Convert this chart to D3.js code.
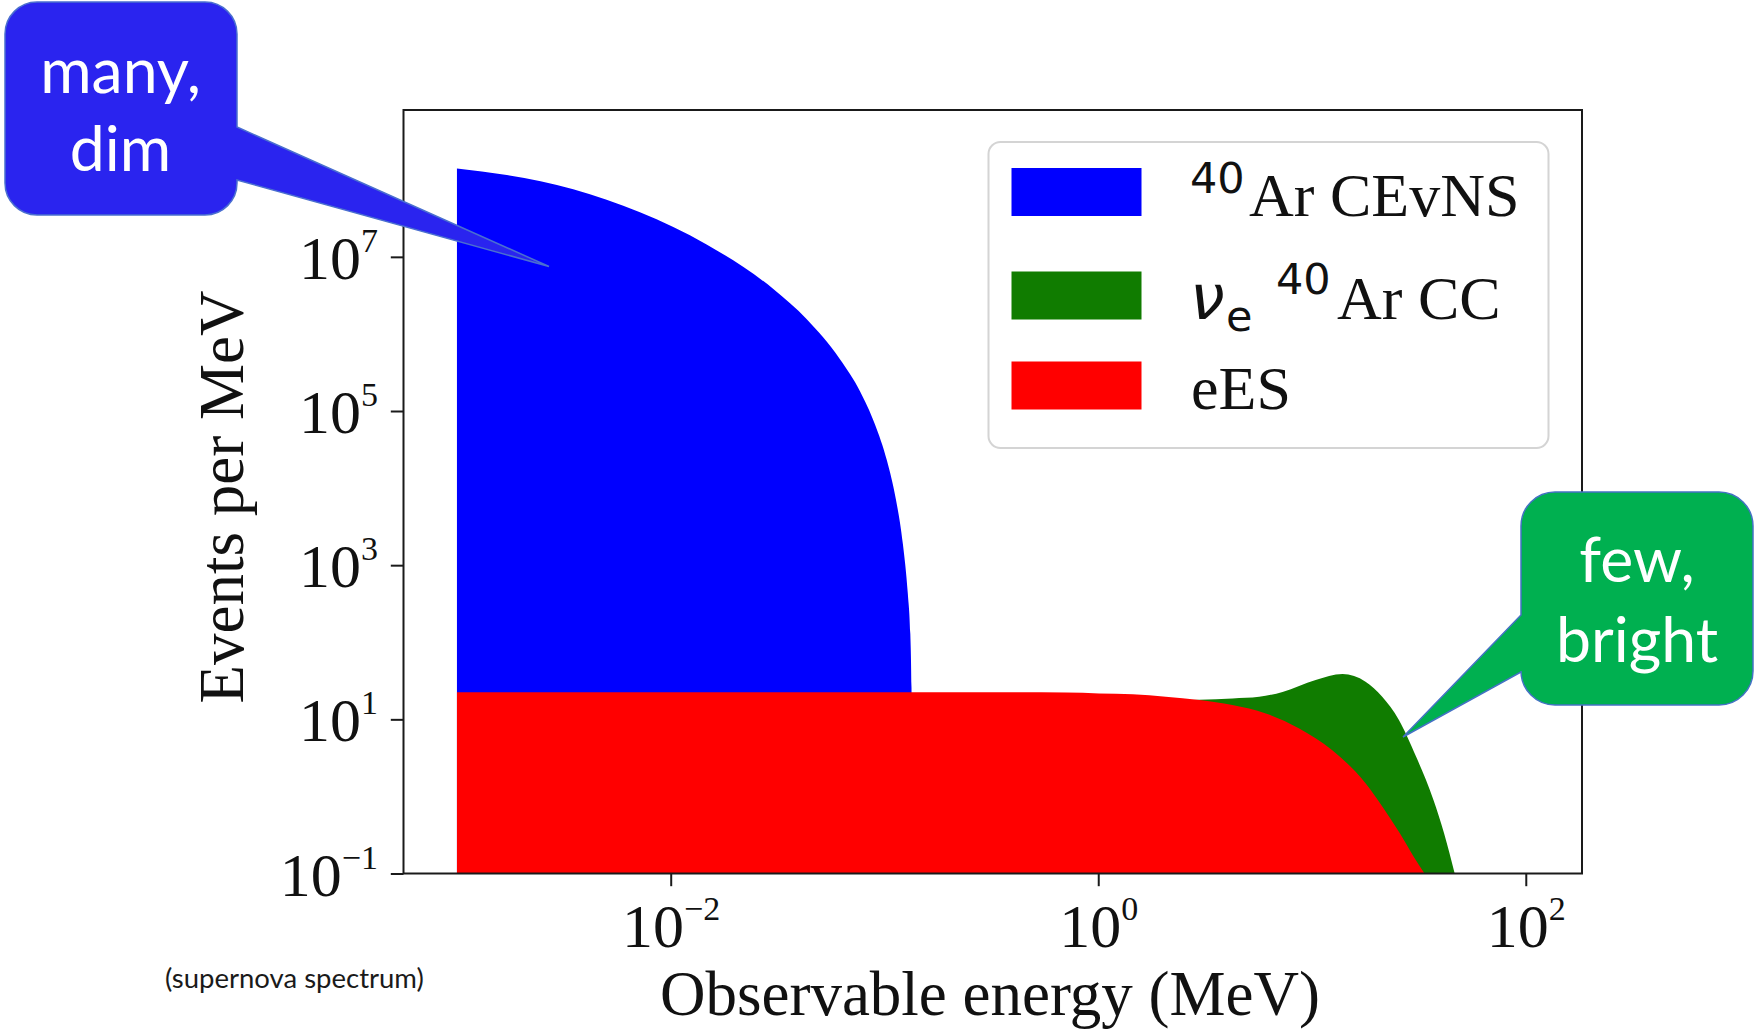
<!DOCTYPE html>
<html>
<head>
<meta charset="utf-8">
<script src="https://cdn.jsdelivr.net/npm/d3@7"></script>
<style>
  html, body { margin: 0; padding: 0; background: #ffffff; }
  svg { display: block; }
</style>
</head>
<body>
<svg id="chart" width="1758" height="1032"></svg>
<script>
// Supernova neutrino event spectra in liquid argon (events per MeV vs observable energy)

// Coherent elastic neutrino-nucleus scattering on 40Ar
const energyCEvNS = [0.001, 0.00171, 0.0035, 0.00718, 0.01472, 0.0302, 0.0433, 0.0619, 0.0768, 0.0902, 0.1026, 0.1130, 0.1219, 0.1286, 0.1321, 0.1338, 0.1349];
const eventsCEvNS = [1.40e8, 1.15e8, 7.55e7, 3.78e7, 1.45e7, 3.82e6, 1.55e6, 4.70e5, 1.81e5, 6.75e4, 2.30e4, 7.24e3, 1.90e3, 427, 129, 25.7, 0.1];

// Charged-current nu_e absorption on 40Ar
const energyCC = [1.0, 2.07, 2.97, 4.25, 5.66, 7.28, 10.4, 13.9, 17.8, 21.3, 25.5, 30.7, 37.0, 41.5, 46.5];
const eventsCC = [7.9, 17.4, 18.0, 18.7, 19.6, 22.7, 32.3, 38.6, 30.7, 19.6, 9.8, 3.27, 0.90, 0.33, 0.1];

// Elastic scattering on electrons
const energyEES = [0.001, 0.01, 0.1, 0.316, 0.708, 1.01, 1.45, 2.07, 2.97, 4.24, 6.08, 8.71, 12.4, 17.8, 21.4, 25.8, 29.9, 33.6];
const eventsEES = [22.5, 22.5, 22.4, 22.4, 22.3, 21.7, 21.1, 19.6, 17.8, 15.3, 11.9, 7.6, 4.0, 1.48, 0.73, 0.33, 0.165, 0.1];

const xTickValues = [1e-2, 1e0, 1e2];
const yTickValues = [1e-1, 1e1, 1e3, 1e5, 1e7];

const seriesColors = ["#0000ff", "#107c00", "#ff0000"];

const svg = d3.select("#chart");

const plot = { left: 403.5, right: 1582, top: 110, bottom: 873.5 };

const x = d3.scaleLog().domain([Math.pow(10, -3.25), Math.pow(10, 2.263)]).range([plot.left, plot.right]);
const y = d3.scaleLog().domain([0.1, Math.pow(10, 8.905)]).range([plot.bottom, plot.top]);

svg.append("defs").append("clipPath").attr("id", "plot-clip")
  .append("rect")
  .attr("x", plot.left).attr("y", plot.top)
  .attr("width", plot.right - plot.left).attr("height", plot.bottom - plot.top);

const area = d3.area()
  .x(d => x(d[0]))
  .y0(y(0.1))
  .y1(d => y(d[1]))
  .curve(d3.curveMonotoneX);

const series = [
  d3.zip(energyCEvNS, eventsCEvNS),
  d3.zip(energyCC, eventsCC),
  d3.zip(energyEES, eventsEES)
];

const fills = svg.append("g").attr("clip-path", "url(#plot-clip)");
series.forEach((pts, i) => {
  fills.append("path").attr("d", area(pts)).attr("fill", seriesColors[i]);
});

// Frame
svg.append("rect")
  .attr("x", plot.left).attr("y", plot.top)
  .attr("width", plot.right - plot.left).attr("height", plot.bottom - plot.top)
  .attr("fill", "none").attr("stroke", "#1a1a1a").attr("stroke-width", 2);

const expLabel = v => {
  const e = Math.round(Math.log10(v));
  return (e < 0 ? "\u2212" : "") + Math.abs(e);
};

// x axis
const xAxis = svg.append("g")
  .attr("transform", `translate(0,${plot.bottom})`)
  .call(d3.axisBottom(x).tickValues(xTickValues).tickSize(12.7).tickFormat(""));
xAxis.select(".domain").remove();
xAxis.selectAll(".tick line").attr("stroke", "#1a1a1a").attr("stroke-width", 2);
xAxis.selectAll(".tick").each(function(d) {
  const t = d3.select(this).append("text")
    .attr("x", 0).attr("y", 947 - plot.bottom)
    .attr("text-anchor", "middle")
    .attr("fill", "#111")
    .style("font-family", "'Liberation Serif', 'Times New Roman', serif")
    .style("font-size", "62px");
  t.append("tspan").text("10");
  t.append("tspan").attr("dy", -27).style("font-size", "34px").text(expLabel(d));
});

// y axis
const yAxis = svg.append("g")
  .attr("transform", `translate(${plot.left},0)`)
  .call(d3.axisLeft(y).tickValues(yTickValues).tickSize(12.7).tickFormat(""));
yAxis.select(".domain").remove();
yAxis.selectAll(".tick line").attr("stroke", "#1a1a1a").attr("stroke-width", 2);
yAxis.selectAll(".tick").each(function(d) {
  const t = d3.select(this).append("text")
    .attr("x", -25.5).attr("y", 21.5)
    .attr("text-anchor", "end")
    .attr("fill", "#111")
    .style("font-family", "'Liberation Serif', 'Times New Roman', serif")
    .style("font-size", "62px");
  t.append("tspan").text("10");
  t.append("tspan").attr("dy", -27).style("font-size", "34px").text(expLabel(d));
});

// Axis titles
svg.append("text")
  .attr("x", 990).attr("y", 1015)
  .attr("text-anchor", "middle").attr("fill", "#111")
  .style("font-family", "'Liberation Serif', 'Times New Roman', serif")
  .style("font-size", "63px")
  .text("Observable energy (MeV)");

svg.append("text")
  .attr("transform", "translate(243,497) rotate(-90)")
  .attr("text-anchor", "middle").attr("fill", "#111")
  .style("font-family", "'Liberation Serif', 'Times New Roman', serif")
  .style("font-size", "63px")
  .text("Events per MeV");

// Legend
const legend = svg.append("g");
legend.append("rect")
  .attr("x", 988.5).attr("y", 142).attr("width", 560).attr("height", 306)
  .attr("rx", 12).attr("ry", 12)
  .attr("fill", "#ffffff").attr("stroke", "#d4d4d4").attr("stroke-width", 2);

const legendRowBaselines = [215.5, 319, 409];
const serif = "'Liberation Serif', 'Times New Roman', serif";
const sans = "'DejaVu Sans', sans-serif";

legendRowBaselines.forEach((b, i) => {
  legend.append("rect")
    .attr("x", 1011.5).attr("y", b - 47.5).attr("width", 130).attr("height", 48)
    .attr("fill", seriesColors[i]);
});

// row 1: 40Ar CEvNS
legend.append("text").attr("x", 1190).attr("y", legendRowBaselines[0] - 23)
  .style("font-family", sans).style("font-size", "43px").attr("fill", "#111").text("40");
legend.append("text").attr("x", 1249).attr("y", legendRowBaselines[0])
  .style("font-family", serif).style("font-size", "62px").attr("fill", "#111").text("Ar CEvNS");

// row 2: nu_e 40Ar CC
legend.append("text").attr("x", 1190).attr("y", legendRowBaselines[1])
  .style("font-family", sans).style("font-style", "italic").style("font-size", "62px").attr("fill", "#111").text("\u03bd");
legend.append("text").attr("x", 1226).attr("y", legendRowBaselines[1] + 12)
  .style("font-family", sans).style("font-size", "43px").attr("fill", "#111").text("e");
legend.append("text").attr("x", 1276).attr("y", legendRowBaselines[1] - 25)
  .style("font-family", sans).style("font-size", "43px").attr("fill", "#111").text("40");
legend.append("text").attr("x", 1337).attr("y", legendRowBaselines[1])
  .style("font-family", serif).style("font-size", "62px").attr("fill", "#111").text("Ar CC");

// row 3: eES
legend.append("text").attr("x", 1191).attr("y", legendRowBaselines[2])
  .style("font-family", serif).style("font-size", "62px").attr("fill", "#111").text("eES");

// Caption
svg.append("text")
  .attr("x", 165).attr("y", 988)
  .style("font-family", "Lato, 'Open Sans', sans-serif").style("font-size", "27.5px")
  .attr("fill", "#1a1a1a")
  .text("(supernova spectrum)");

// Speech-bubble callouts
function bubbleRightTail(x0, y0, x1, y1, r, ya, yb, tx, ty) {
  return `M${x0 + r},${y0} H${x1 - r} A${r},${r} 0 0 1 ${x1},${y0 + r} V${ya} L${tx},${ty} L${x1},${yb} ` +
         `V${y1 - r} A${r},${r} 0 0 1 ${x1 - r},${y1} H${x0 + r} A${r},${r} 0 0 1 ${x0},${y1 - r} ` +
         `V${y0 + r} A${r},${r} 0 0 1 ${x0 + r},${y0} Z`;
}
function bubbleLeftTail(x0, y0, x1, y1, r, ya, yb, tx, ty) {
  return `M${x0 + r},${y0} H${x1 - r} A${r},${r} 0 0 1 ${x1},${y0 + r} V${y1 - r} ` +
         `A${r},${r} 0 0 1 ${x1 - r},${y1} H${x0 + r} A${r},${r} 0 0 1 ${x0},${y1 - r} ` +
         `V${yb} L${tx},${ty} L${x0},${ya} V${y0 + r} A${r},${r} 0 0 1 ${x0 + r},${y0} Z`;
}

const callouts = svg.append("g");
callouts.append("path")
  .attr("d", bubbleRightTail(5, 2, 237, 215, 32, 127, 180, 549, 266.5))
  .attr("fill", "#2a24ef").attr("stroke", "#4a6fd0").attr("stroke-width", 1.5);
callouts.append("path")
  .attr("d", bubbleLeftTail(1521, 492, 1753, 705, 34, 615, 672, 1403, 737))
  .attr("fill", "#00b050").attr("stroke", "#4472c4").attr("stroke-width", 1.5);

const calloutFont = "Lato, 'Open Sans', sans-serif";
[["many,", 120.5, 93], ["dim", 120.5, 171], ["few,", 1637, 582], ["bright", 1637, 662]].forEach(([s, cx, by]) => {
  callouts.append("text")
    .attr("x", cx).attr("y", by)
    .attr("text-anchor", "middle")
    .attr("fill", "#ffffff")
    .style("font-family", calloutFont)
    .style("font-size", "62.5px")
    .text(s);
});
</script>
</body>
</html>
